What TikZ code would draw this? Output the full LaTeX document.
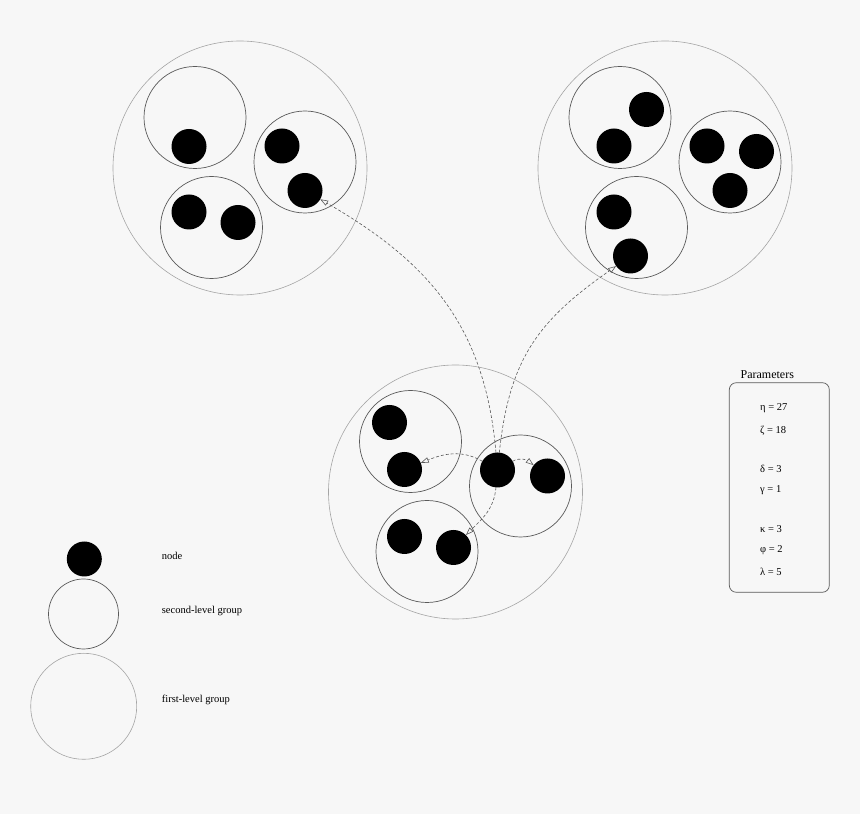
\documentclass[tikz,border=0pt]{standalone}
\usepackage{fontspec}
\setmainfont{Liberation Serif}
\usepackage{tikz}
\usetikzlibrary{arrows.meta}
\usetikzlibrary{calc}

\definecolor{bgcol}{RGB}{247,247,247}
\definecolor{subcol}{RGB}{90,90,90}
\definecolor{grpcol}{RGB}{165,165,165}
\definecolor{arrcol}{RGB}{90,90,90}

\tikzset{
  member/.style={circle,fill=black,minimum size=35pt,inner sep=0pt,outer sep=0pt},
  subgroup/.style={circle,draw=subcol,line width=0.7pt,minimum size=102pt,inner sep=0pt,outer sep=0pt},
  group/.style={circle,draw=grpcol,line width=0.6pt,minimum size=254pt,inner sep=0pt,outer sep=0pt},
  link/.style={draw=arrcol,line width=0.6pt,dash pattern=on 3pt off 2pt,
    -{Triangle[open,length=8pt,width=5.5pt,line width=0.6pt]}},
  legend/.style={anchor=west,font=\fontsize{10.5}{12}\selectfont,inner sep=0pt},
  param/.style={anchor=west,font=\fontsize{10.5}{12}\selectfont,inner sep=0pt}
}

\begin{document}
\begin{tikzpicture}[x=1pt,y=1pt]
      \fill[bgcol] (0,0) rectangle (860,814);
      \useasboundingbox (0,0) rectangle (860,814);
      % first-level groups
      \node[group] (g1) at (240,646) {};
      \node[group] (g2) at (665,646) {};
      \node[group] (g3) at (455.5,322) {};
      % second-level groups
      \node[subgroup] (g1a) at (195,696.5) {};
      \node[subgroup] (g1b) at (305,652) {};
      \node[subgroup] (g1c) at (211.5,586.5) {};
      \node[subgroup] (g2a) at (620,696.5) {};
      \node[subgroup] (g2b) at (730,652) {};
      \node[subgroup] (g2c) at (636.5,586.5) {};
      \node[subgroup] (g3a) at (410.5,372.5) {};
      \node[subgroup] (g3b) at (520.5,328) {};
      \node[subgroup] (g3c) at (427,262.5) {};
      % nodes
      \node[member] (g1a1) at (189,667.5) {};
      \node[member] (g1b1) at (282,668) {};
      \node[member] (g1b2) at (305,623.5) {};
      \node[member] (g1c1) at (189,602) {};
      \node[member] (g1c2) at (238,591.5) {};
      \node[member] (g2a1) at (646.5,704.5) {};
      \node[member] (g2a2) at (614,668) {};
      \node[member] (g2b1) at (707,668) {};
      \node[member] (g2b2) at (756.5,662.5) {};
      \node[member] (g2b3) at (730,623.5) {};
      \node[member] (g2c1) at (614,602) {};
      \node[member] (g2c2) at (630.5,558) {};
      \node[member] (g3a1) at (389.5,391.5) {};
      \node[member] (g3a2) at (404.5,344.5) {};
      \node[member] (g3b1) at (497.5,344) {};
      \node[member] (g3b2) at (547.5,338) {};
      \node[member] (g3c1) at (404.5,277.5) {};
      \node[member] (g3c2) at (453.5,266.5) {};
      % links
      \draw [link] (g3b1) to[out=95,in=-30,looseness=1.05] (g1b2);
      \draw [link] (g3b1) to[out=84,in=-145,looseness=1.1] (g2c2);
      \draw [link] (g3b1) to[out=150,in=22] (g3a2);
      \draw [link] (g3b1) to[out=30,in=142] (g3b2);
      \draw [link] (g3b1) to[out=-95,in=45] (g3c2);
      % legend
      \node[member] (lnode) at (84.3,255) {};
      \node[subgroup,minimum size=70pt] (lsub) at (83.5,200) {};
      \node[group,minimum size=106pt] (lgrp) at (83.7,107.7) {};
      \node[legend] (tnode) at (161.7,258) {node};
      \node[legend] (tsub) at (161.7,202.7) {second-level group};
      \node[legend] (tgrp) at (161.7,114) {first-level group};
      % parameters
      \node[draw=subcol,line width=0.7pt,rounded corners=7pt,minimum width=100pt,minimum height=209.6pt] (pbox) at (779.3,326.5) {};
      \node[font=\fontsize{12}{14}\selectfont,inner sep=0pt] (ptitle) at (767.3,439.7) {Parameters};
      \node[param] (p1) at (760,405.7) {η = 27};
      \node[param] (p2) at (760,383.3) {ζ = 18};
      \node[param] (p3) at (760,344.7) {δ = 3};
      \node[param] (p4) at (760,324) {γ = 1};
      \node[param] (p5) at (760,285) {κ = 3};
      \node[param] (p6) at (760,264) {φ = 2};
      \node[param] (p7) at (760,241.7) {λ = 5};
    \end{tikzpicture}
\end{document}
